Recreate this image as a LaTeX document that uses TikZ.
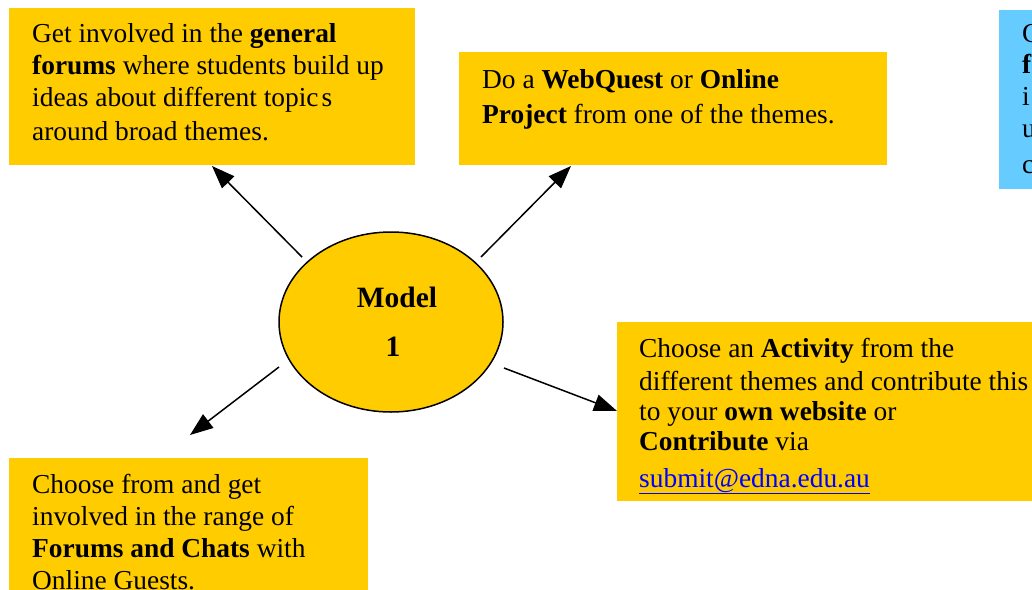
\documentclass[tikz,border=0pt]{standalone}
\usepackage{fontspec}
\setmainfont{Liberation Serif}
\usetikzlibrary{arrows.meta,shapes.geometric}
\definecolor{boxyellow}{RGB}{255,204,0}
\definecolor{boxblue}{RGB}{102,204,255}
\definecolor{linkblue}{RGB}{0,0,255}
\tikzset{
  ybox/.style={rectangle, fill=boxyellow, draw=none, anchor=north west, inner sep=0pt},
  bbox/.style={rectangle, fill=boxblue, draw=none, anchor=north west, inner sep=0pt},
  tl/.style={anchor=base west, inner sep=0pt, font=\fontsize{27.4}{32}\selectfont},
  ml/.style={anchor=base, inner sep=0pt, font=\fontsize{29.5}{34}\selectfont\bfseries},
  arr/.style={-{Triangle[length=23pt,width=17pt]}, line width=1.5pt},
}
\begin{document}
\begin{tikzpicture}[x=1pt,y=-1pt]
\useasboundingbox (0,0) rectangle (1032,589);
\clip (0,0) rectangle (1032,589);
% boxes
\node[ybox, minimum width=406pt, minimum height=157pt] (A) at (9,8) {};
\node[ybox, minimum width=428pt, minimum height=113pt] (B) at (459,52) {};
\node[bbox, minimum width=60pt, minimum height=179pt] (C) at (999,10) {};
\node[ybox, minimum width=440pt, minimum height=179pt] (D) at (617,322) {};
\node[ybox, minimum width=359pt, minimum height=160pt] (E) at (9,458) {};
% ellipse
\node[ellipse, draw=black, line width=1.5pt, fill=boxyellow, minimum width=224pt, minimum height=180pt, inner sep=0pt] (M) at (391,322) {};
\node[ml] (m1) at (397,307) {Model};
\node[ml] (m2) at (393,356) {1};
% text A
\node[tl] (a1) at (32,42) {Get involved in the \textbf{general}};
\node[tl] (a2) at (32,74) {\textbf{forums} where students build up};
\node[tl] (a3) at (32,106) {ideas about different topic\kern3pt s};
\node[tl] (a4) at (32,140) {around broad themes.};
% text B
\node[tl] (b1) at (482,88) {Do a \textbf{WebQuest} or \textbf{Online}};
\node[tl] (b2) at (482,123) {\textbf{Project} from one of the themes.};
% text C (clipped at the right edge)
\node[tl] (c1) at (1022,42) {G};
\node[tl] (c2) at (1022,73) {\textbf{f}};
\node[tl] (c3) at (1022,105) {i};
\node[tl] (c4) at (1022,137) {u};
\node[tl] (c5) at (1022,173) {c};
% text D
\node[tl] (d1) at (639,357) {Choose an \textbf{Activity} from the};
\node[tl] (d2) at (639,390) {different themes and contribute this};
\node[tl] (d3) at (639,420) {to your \textbf{own website} or};
\node[tl] (d4) at (639,450) {\textbf{Contribute} via};
\node[tl, text=linkblue] (d5) at (639,487) {\underline{submit@edna.edu.au}};
% text E
\node[tl] (e1) at (32,493) {Choose from and get};
\node[tl] (e2) at (32,525) {involved in the range of};
\node[tl] (e3) at (32,557) {\textbf{Forums and Chats} with};
\node[tl] (e4) at (32,589) {Online Guests.};
% arrows
\coordinate (s1) at (302,257);
\coordinate (t1) at (212,166);
\coordinate (s2) at (481,257);
\coordinate (t2) at (571,166);
\coordinate (s3) at (279,367);
\coordinate (t3) at (190,435);
\coordinate (s4) at (504,368);
\coordinate (t4) at (617,411);
\draw[arr] (s1) -- (t1);
\draw[arr] (s2) -- (t2);
\draw[arr] (s3) -- (t3);
\draw[arr] (s4) -- (t4);
\end{tikzpicture}
\end{document}
